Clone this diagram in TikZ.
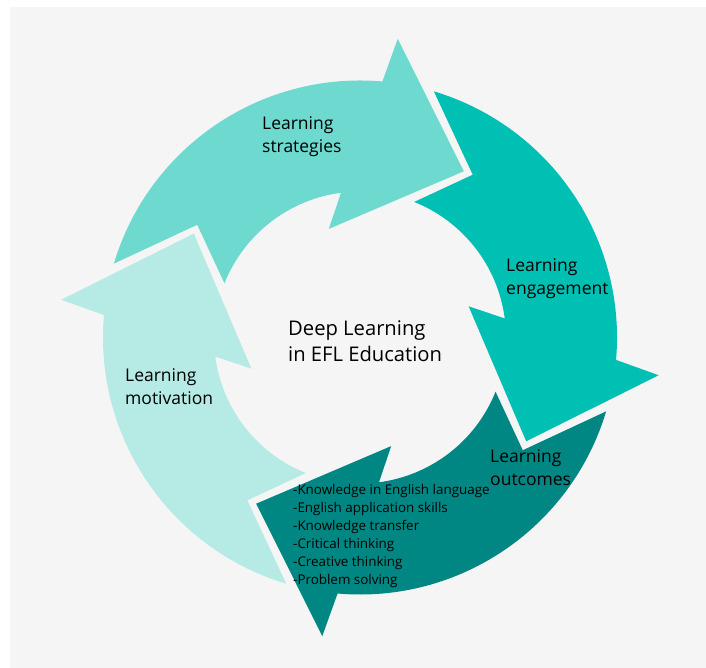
\documentclass[tikz,border=0pt]{standalone}
\usepackage{fontspec}
\setmainfont{Open Sans}

\definecolor{bggray}{RGB}{245,245,245}
\definecolor{stratcol}{RGB}{109,217,207}
\definecolor{engcol}{RGB}{0,191,179}
\definecolor{outcol}{RGB}{0,135,132}
\definecolor{motcol}{RGB}{181,234,229}

\begin{document}
\begin{tikzpicture}[x=1pt,y=1pt,
labelnode/.style={anchor=base west, align=left, inner sep=0pt, font=\fontsize{17.5}{23}\selectfont},
corenode/.style={anchor=base west, align=left, inner sep=0pt, font=\fontsize{20.2}{26.5}\selectfont},
listnode/.style={anchor=base west, align=left, inner sep=0pt, font=\fontsize{13.4}{18}\selectfont},
]
% page and grey panel
\fill[white] (0,0) rectangle (706,668);
\fill[bggray] (10,0) rectangle (706,661);
\useasboundingbox (0,0) rectangle (706,668);

% four curved arrows, one per quarter, turning clockwise
\foreach \col/\rot in {stratcol/0, engcol/-90, outcol/-180, motcol/90}{
  \begin{scope}[shift={(360,330.5)}, rotate=\rot]
    \fill[\col] (163.3:257) arc[start angle=163.3, end angle=85, radius=257]
      -- (82.8:301) -- (58:196) -- (106:113) -- (97.5:146)
      arc[start angle=97.5, end angle=158.2, radius=146]
      -- (145.3:198) -- cycle;
  \end{scope}
}

% labels (anchored on the baseline of their last line)
\node[labelnode] (strategies) at (262,515) {Learning\\strategies};
\node[labelnode] (engagement) at (506,373.3) {Learning\\engagement};
\node[labelnode] (outcomes) at (490,182) {Learning\\outcomes};
\node[labelnode] (motivation) at (125,263) {Learning\\motivation};
\node[corenode] (core) at (288,306.3) {Deep Learning\\in EFL Education};
\node[listnode] (outlist) at (293,83) {-Knowledge in English language\\-English application skills\\-Knowledge transfer\\-Critical thinking\\-Creative thinking\\-Problem solving};
\end{tikzpicture}
\end{document}
